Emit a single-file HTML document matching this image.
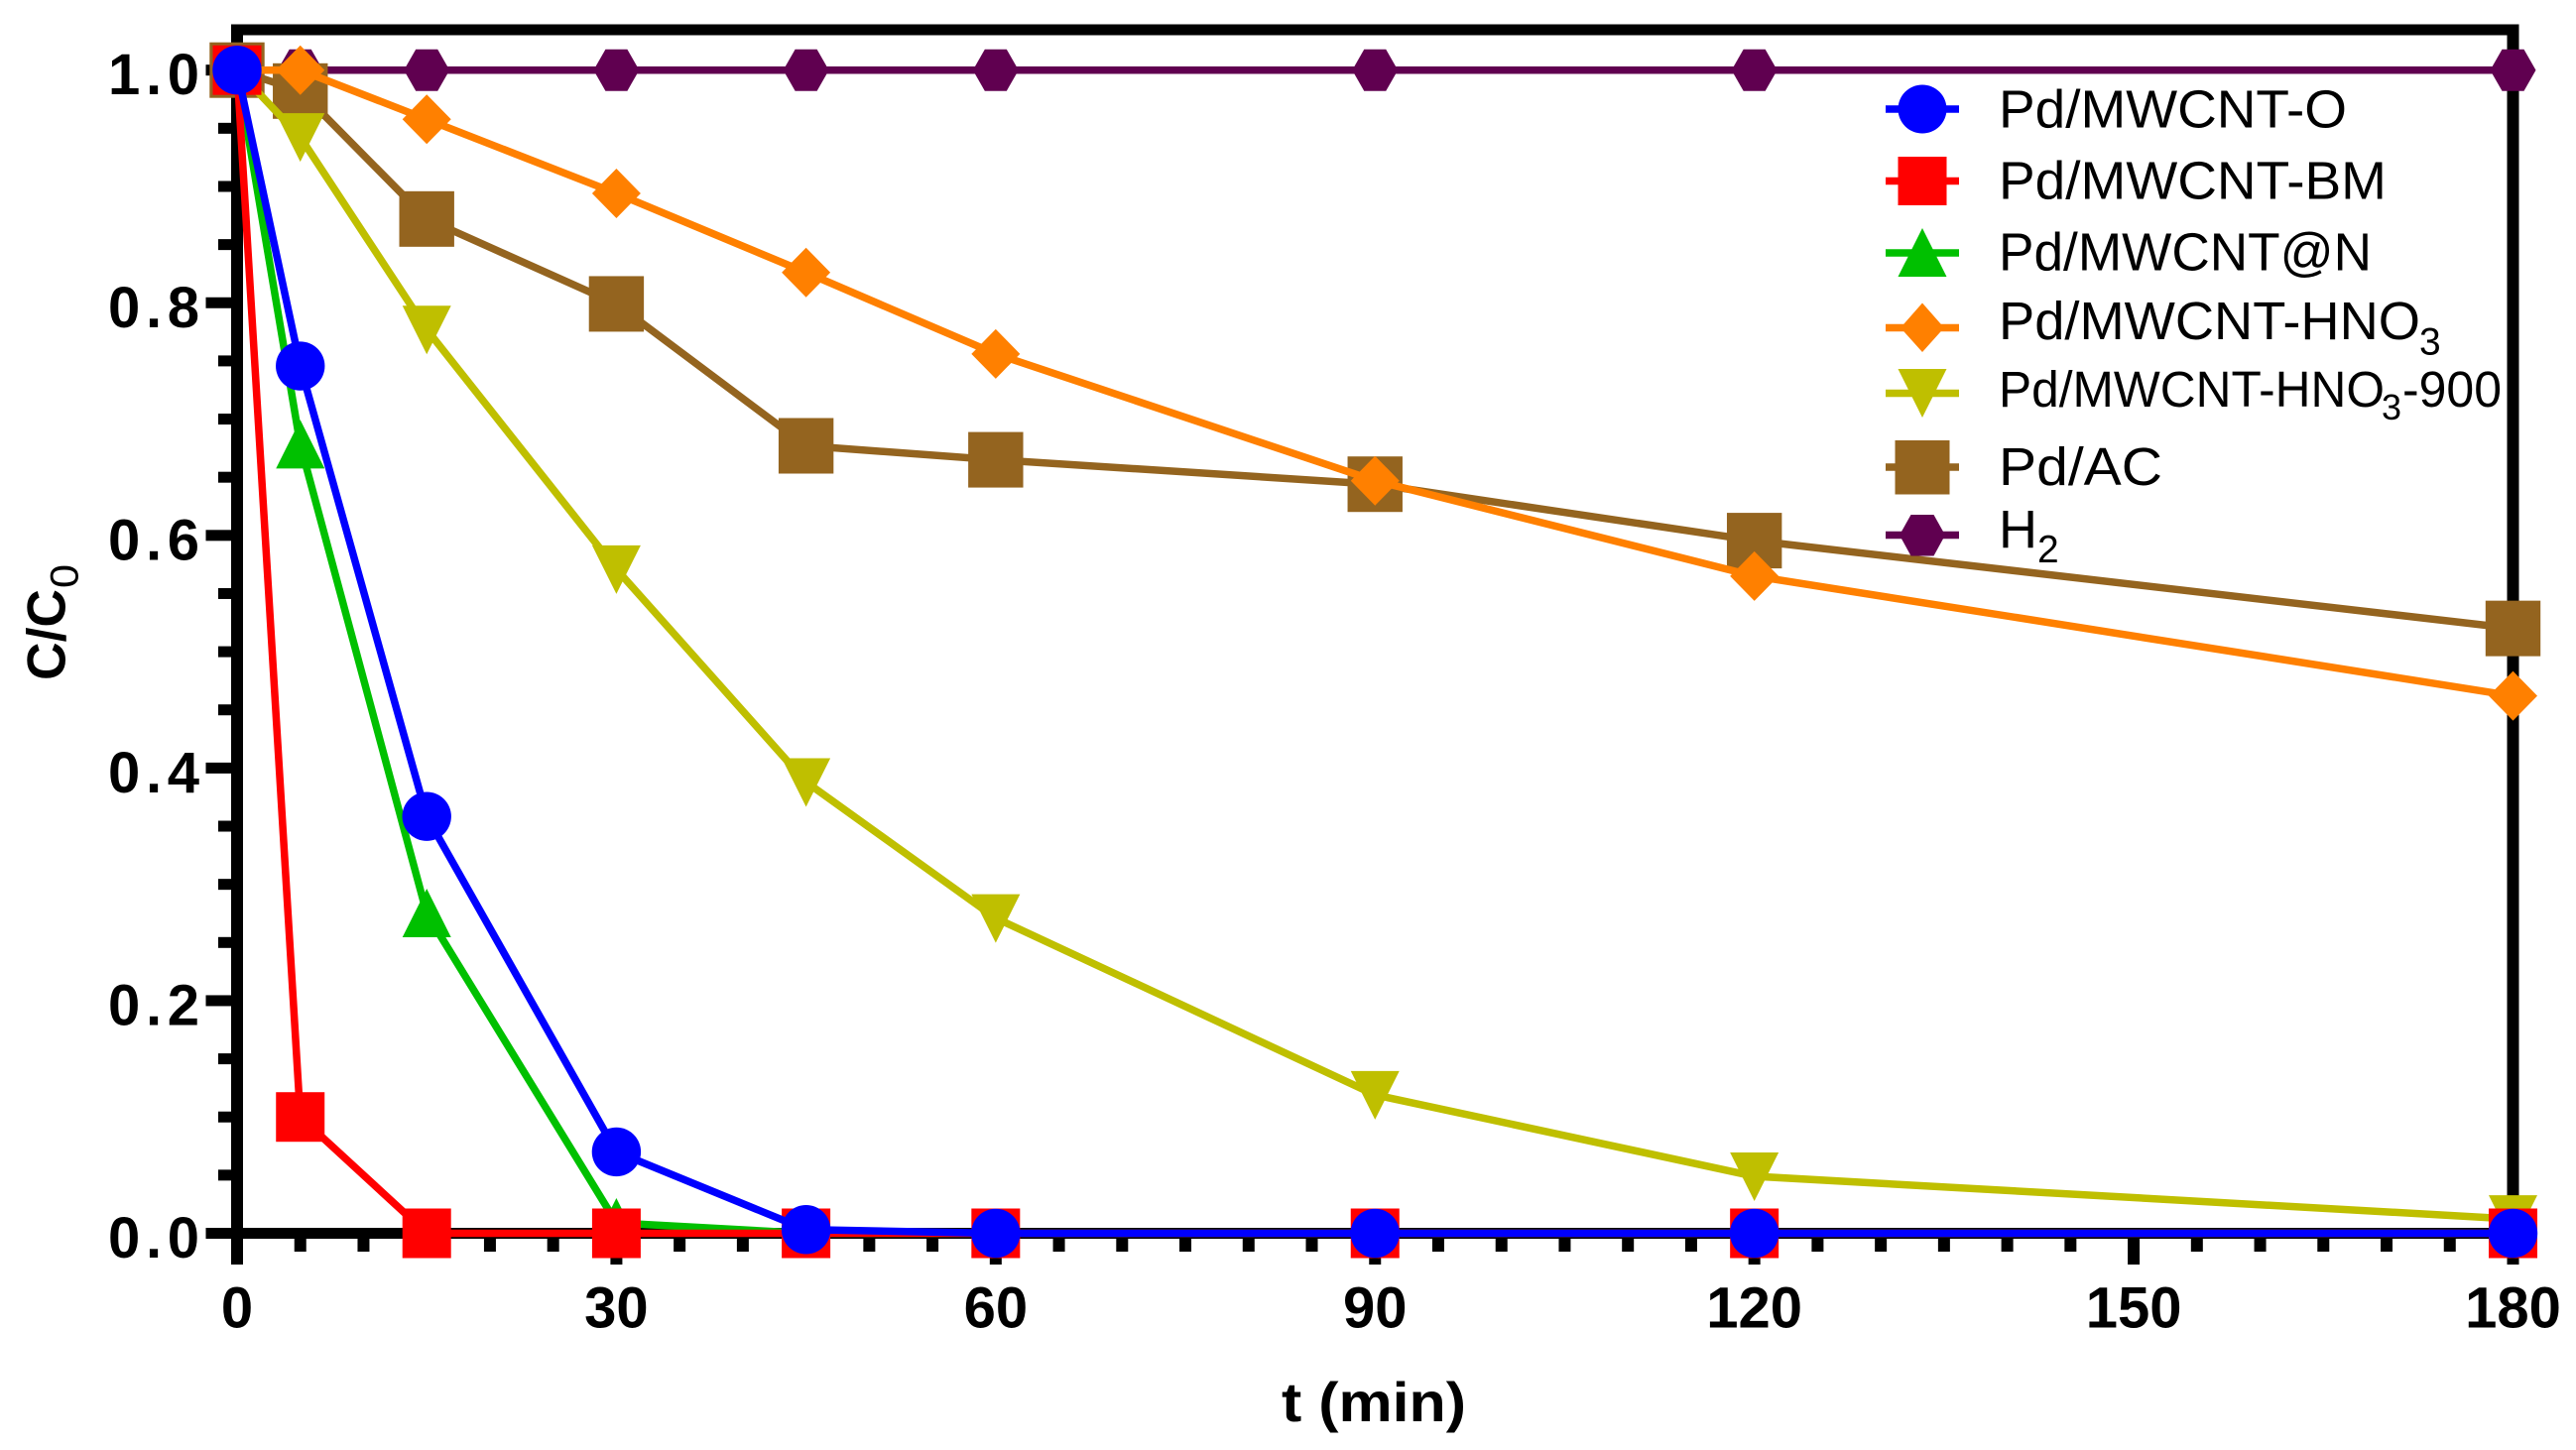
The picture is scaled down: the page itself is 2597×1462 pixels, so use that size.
<!DOCTYPE html>
<html lang="en">
<head>
<meta charset="utf-8">
<title>C/C0 versus time</title>
<style>
html,body{margin:0;padding:0;background:#fff;}
svg{display:block;}
text{font-family:"Liberation Sans",sans-serif;fill:#000;}
.tick{font-size:58px;font-weight:bold;}
.leg{font-size:54px;}
.legs{font-size:39px;}
.leg2{font-size:51px;}
.legs2{font-size:36px;}
</style>
</head>
<body>
<svg id="chart" xmlns="http://www.w3.org/2000/svg" width="2597" height="1462" viewBox="0 0 2597 1462">
<rect x="0" y="0" width="2597" height="1462" fill="#ffffff"/>
<g id="axes"></g>
<g id="series"></g>
<text x="1292" y="1433" font-size="56" font-weight="bold" textLength="186" lengthAdjust="spacingAndGlyphs">t (min)</text>
<text transform="translate(65.7,686) rotate(-90)" font-size="55" font-weight="bold"><tspan x="0" y="0" textLength="92" lengthAdjust="spacingAndGlyphs">C/C</tspan><tspan x="93" y="12.6" font-size="40" font-weight="normal" textLength="24" lengthAdjust="spacingAndGlyphs">0</tspan></text>
<g>
 <g>
  <line x1="1901" x2="1975" y1="110" y2="110" stroke="#0000ff" stroke-width="7.5"/>
  <ellipse cx="1938" cy="110" rx="24.5" ry="24.5" fill="#0000ff"/>
  <text class="leg" x="2015" y="128.5" textLength="351" lengthAdjust="spacingAndGlyphs">Pd/MWCNT-O</text>
 </g>
 <g>
  <line x1="1901" x2="1975" y1="182.5" y2="182.5" stroke="#ff0000" stroke-width="7.5"/>
  <rect x="1913.5" y="158" width="49" height="49" fill="#ff0000"/>
  <text class="leg" x="2015" y="200.5" textLength="391" lengthAdjust="spacingAndGlyphs">Pd/MWCNT-BM</text>
 </g>
 <g>
  <line x1="1901" x2="1975" y1="255" y2="255" stroke="#00c000" stroke-width="7.5"/>
  <polygon points="1938,230 1962.5,279 1913.5,279" fill="#00c000"/>
  <text class="leg" x="2015" y="272.7" textLength="376" lengthAdjust="spacingAndGlyphs">Pd/MWCNT@N</text>
 </g>
 <g>
  <line x1="1901" x2="1975" y1="330.5" y2="330.5" stroke="#ff8000" stroke-width="7.5"/>
  <polygon points="1938,305.5 1960,330.5 1938,355 1916,330.5" fill="#ff8000"/>
  <text class="leg" x="2015" y="342" ><tspan textLength="425" lengthAdjust="spacingAndGlyphs">Pd/MWCNT-HNO</tspan><tspan class="legs" x="2439" y="357.7">3</tspan></text>
 </g>
 <g>
  <line x1="1901" x2="1975" y1="396.5" y2="396.5" stroke="#bfbf00" stroke-width="7.5"/>
  <polygon points="1913.5,372 1962.5,372 1938,421" fill="#bfbf00"/>
  <text class="leg2" x="2015" y="410"><tspan textLength="389" lengthAdjust="spacingAndGlyphs">Pd/MWCNT-HNO</tspan><tspan class="legs2" x="2401" y="423">3</tspan><tspan x="2422" y="410" textLength="100" lengthAdjust="spacingAndGlyphs">-900</tspan></text>
 </g>
 <g>
  <line x1="1901" x2="1975" y1="471" y2="471" stroke="#94641f" stroke-width="7.5"/>
  <rect x="1910.5" y="444" width="55" height="54.5" fill="#94641f"/>
  <text class="leg" x="2015" y="489" textLength="165" lengthAdjust="spacingAndGlyphs">Pd/AC</text>
 </g>
 <g>
  <line x1="1901" x2="1975" y1="539.5" y2="539.5" stroke="#600050" stroke-width="7.5"/>
  <polygon points="1915,539.5 1926.5,519 1949.5,519 1961,539.5 1949.5,560.5 1926.5,560.5" fill="#600050"/>
  <text class="leg" x="2015" y="552">H<tspan class="legs" x="2054" y="567">2</tspan></text>
 </g>
</g>
</svg>
<script>
// Chart data
const times = [0, 5, 15, 30, 45, 60, 90, 120, 180];
const seriesH2 = [1, 1, 1, 1, 1, 1, 1, 1, 1];
const seriesAC = [1, 0.982, 0.872, 0.799, 0.677, 0.665, 0.644, 0.5955, 0.52];
const seriesHNO3900 = [1, 0.9425, 0.777, 0.571, 0.388, 0.271, 0.119, 0.049, 0.0123];
const seriesHNO3 = [1, 1, 0.9577, 0.894, 0.826, 0.756, 0.647, 0.565, 0.462];
const seriesN = [1, 0.678, 0.275, 0.009, 0, 0, 0, 0, 0];
const seriesBM = [1, 0.1, 0, 0, 0, 0, 0, 0, 0];
const seriesO = [1, 0.7456, 0.3584, 0.07, 0.0032, 0, 0, 0, 0];
const xTickValues = [0, 30, 60, 90, 120, 150, 180];
const xTickLabels = ['0', '30', '60', '90', '120', '150', '180'];
const yTickValues = [0, 0.2, 0.4, 0.6, 0.8, 1.0];
const yTickLabels = ['0.0', '0.2', '0.4', '0.6', '0.8', '1.0'];
const xMinorStep = 5;
const yMinorStep = 0.05;

const NS = 'http://www.w3.org/2000/svg';
function x(v) { return 239 + v * (2533.5 - 239) / 180; }
function y(v) { return 1243.5 - v * (1243.5 - 70.7); }

function make(tag, attrs, parent) {
  const el = document.createElementNS(NS, tag);
  for (const k in attrs) el.setAttribute(k, attrs[k]);
  parent.appendChild(el);
  return el;
}

const axes = document.getElementById('axes');

function drawTicks() {
  for (let m = 0; m <= 180; m += xMinorStep) {
    const major = m % 30 === 0;
    const t = make('rect', { x: x(m) - 6, y: 1243, width: 12, height: major ? 32 : 19, fill: '#000' }, axes);
    
    
  }
  const yCount = Math.round(1 / yMinorStep);
  for (let i = 0; i <= yCount; i++) {
    const v = i * yMinorStep;
    const major = i % 4 === 0;
    const t = make('rect', { x: major ? 207.5 : 220, y: y(v) - 5.5, width: major ? 32 : 20, height: 11, fill: '#000' }, axes);
    
    
  }
}

function drawFrame() {
  const left = make('rect', { x: x(0) - 6, y: 24.5, width: 12, height: 1250.5, fill: '#000' }, axes);
  
  
  const right = make('rect', { x: x(180) - 6, y: 24.5, width: 12, height: 1250.5, fill: '#000' }, axes);
  
  
  const top = make('rect', { x: x(0) - 6, y: 24.5, width: x(180) - x(0) + 12, height: 11, fill: '#000' }, axes);
  
  
  const bottom = make('rect', { x: 207.5, y: y(0) - 5.5, width: x(180) + 6 - 207.5, height: 11, fill: '#000' }, axes);
  
  
}

function drawTickLabels() {
  xTickValues.forEach(function (v, i) {
    const t = make('text', { class: 'tick', x: x(v), y: 1338.7, 'text-anchor': 'middle' }, axes);
    
    
    t.textContent = xTickLabels[i];
  });
  yTickValues.forEach(function (v, i) {
    const t = make('text', { class: 'tick', x: 109, y: y(v) + 24.5, textLength: 92, lengthAdjust: 'spacing' }, axes);
    
    
    t.textContent = yTickLabels[i];
  });
}

function marker(kind, cx, cy, color, parent) {
  let el;
  if (kind === 'circle') {
    el = make('circle', { cx: cx, cy: cy, r: 24.7, fill: color }, parent);
  } else if (kind === 'square') {
    el = make('rect', { x: cx - 24.5, y: cy - 25, width: 49, height: 50, fill: color }, parent);
  } else if (kind === 'bigsquare') {
    el = make('rect', { x: cx - 27.7, y: cy - 28, width: 55.4, height: 56, fill: color }, parent);
  } else if (kind === 'up') {
    el = make('polygon', { points: [cx, cy - 25, cx + 24.5, cy + 24, cx - 24.5, cy + 24].join(' '), fill: color }, parent);
  } else if (kind === 'down') {
    el = make('polygon', { points: [cx - 24.5, cy - 24, cx + 24.5, cy - 24, cx, cy + 25].join(' '), fill: color }, parent);
  } else if (kind === 'diamond') {
    el = make('polygon', { points: [cx, cy - 25, cx + 24.5, cy, cx, cy + 25, cx - 24.5, cy].join(' '), fill: color }, parent);
  } else {
    el = make('polygon', { points: [cx - 23, cy, cx - 11, cy - 21, cx + 11, cy - 21, cx + 23, cy, cx + 11, cy + 21, cx - 11, cy + 21].join(' '), fill: color }, parent);
  }
  return el;
}

function drawSeries(name, values, color, kind) {
  const layer = document.getElementById('series');
  const g = make('g', {}, layer);
  
  
  const pts = values.map(function (v, i) { return x(times[i]) + ',' + y(v); }).join(' ');
  const line = make('polyline', { points: pts, fill: 'none', stroke: color, 'stroke-width': 7.5, 'stroke-linejoin': 'round' }, g);
  
  
  values.forEach(function (v, i) {
    const m = marker(kind, x(times[i]), y(v), color, g);
    
    
  });
}

drawTicks();
drawFrame();
drawTickLabels();
drawSeries('h2', seriesH2, '#600050', 'hexagon');
drawSeries('pd-ac', seriesAC, '#94641f', 'bigsquare');
drawSeries('pd-mwcnt-hno3-900', seriesHNO3900, '#bfbf00', 'down');
drawSeries('pd-mwcnt-hno3', seriesHNO3, '#ff8000', 'diamond');
drawSeries('pd-mwcnt-at-n', seriesN, '#00c000', 'up');
drawSeries('pd-mwcnt-bm', seriesBM, '#ff0000', 'square');
drawSeries('pd-mwcnt-o', seriesO, '#0000ff', 'circle');
</script>
</body>
</html>
